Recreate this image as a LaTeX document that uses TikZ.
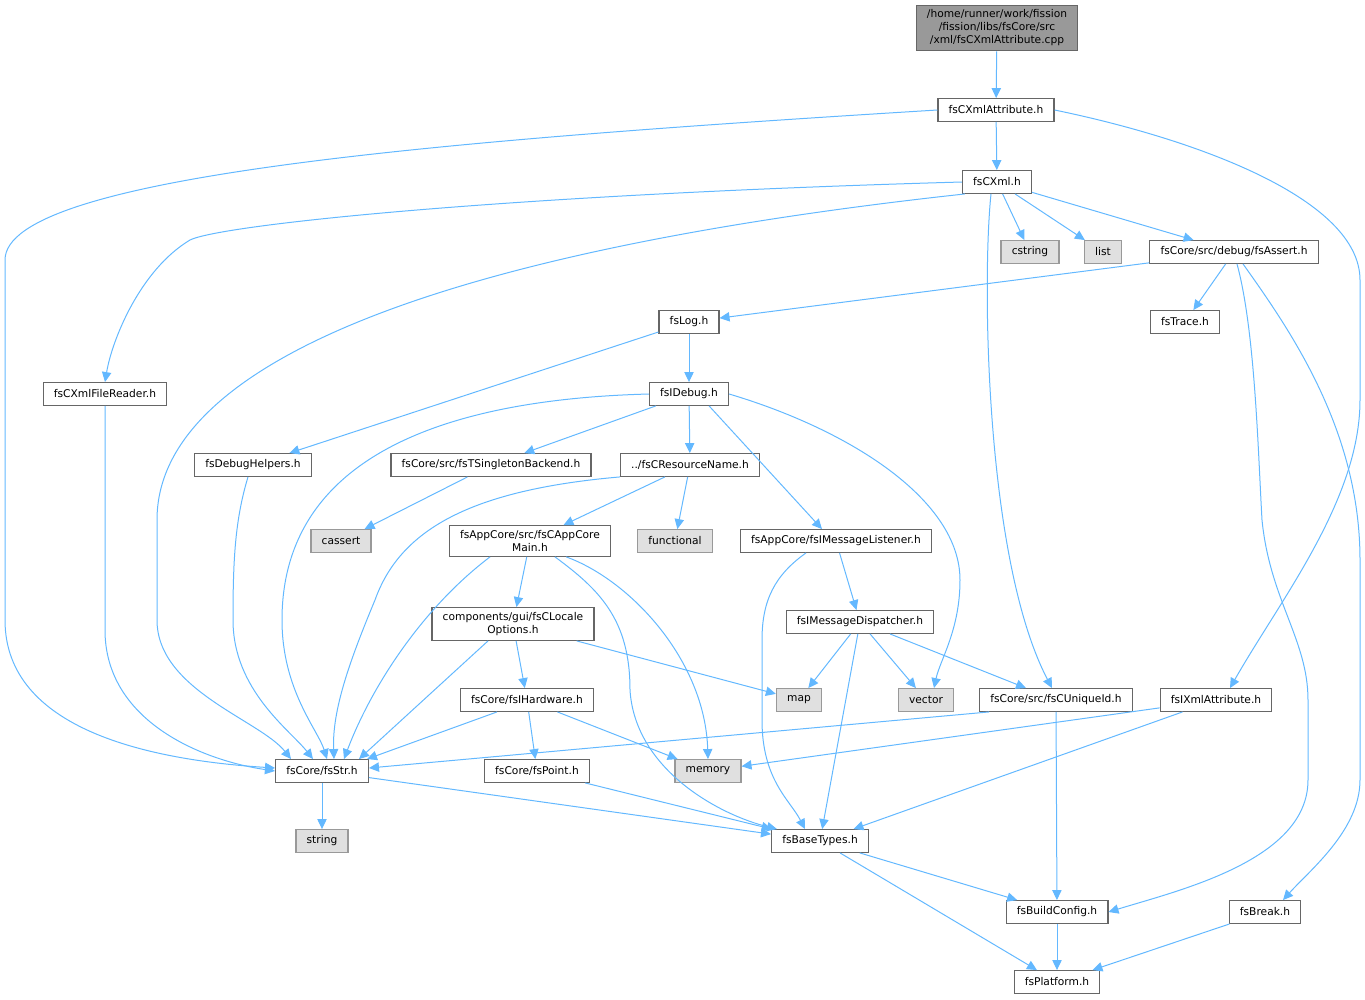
\documentclass[tikz,border=0pt]{standalone}
\usepackage{fontspec}
\setmainfont{DejaVu Sans}
\usetikzlibrary{arrows.meta,calc}
\definecolor{edgeblue}{HTML}{63B8FF}
\definecolor{boxgrey}{HTML}{666666}
\definecolor{sysgrey}{HTML}{999999}
\definecolor{sysfill}{HTML}{E0E0E0}
\tikzset{
  file/.style={rectangle, draw=boxgrey, fill=white, line width=0.9pt, inner xsep=8pt, inner ysep=3.5pt,
    minimum height=17pt, align=center, font=\fontsize{8pt}{9.75pt}\selectfont},
  sysfile/.style={file, draw=sysgrey, fill=sysfill},
  rootfile/.style={file, draw=boxgrey, fill=sysgrey},
  dep/.style={draw=edgeblue, line width=0.75pt, -{Triangle[length=7.5pt,width=7pt]}}
}
\begin{document}
\begin{tikzpicture}[x=0.75pt, y=-0.75pt]
  \useasboundingbox (0,0) rectangle (1365,1000);
  % Nodes
  \node (root) [rootfile] at (997,28) {/home/runner/work/fission\\/fission/libs/fsCore/src\\/xml/fsCXmlAttribute.cpp};
  \node (cxa) [file] at (996,110) {fsCXmlAttribute.h};
  \node (cxml) [file] at (997,182) {fsCXml.h};
  \node (cstring) [sysfile] at (1030,252) {cstring};
  \node (list) [sysfile] at (1103,252) {list};
  \node (assert) [file] at (1234,252) {fsCore/src/debug/fsAssert.h};
  \node (log) [file] at (689,322) {fsLog.h};
  \node (trace) [file] at (1185,322) {fsTrace.h};
  \node (reader) [file] at (105,394) {fsCXmlFileReader.h};
  \node (idebug) [file] at (689,394) {fsIDebug.h};
  \node (dbghelp) [file] at (253,465) {fsDebugHelpers.h};
  \node (singleton) [file] at (491,465) {fsCore/src/fsTSingletonBackend.h};
  \node (resname) [file] at (690,465) {../fsCResourceName.h};
  \node (cassert) [sysfile] at (341,541) {cassert};
  \node (appmain) [file] at (530,541) {fsAppCore/src/fsCAppCore\\Main.h};
  \node (functional) [sysfile] at (675,541) {functional};
  \node (listener) [file] at (836,541) {fsAppCore/fsIMessageListener.h};
  \node (locale) [file] at (513,624) {components/gui/fsCLocale\\Options.h};
  \node (dispatcher) [file] at (860,622) {fsIMessageDispatcher.h};
  \node (hardware) [file] at (527,700) {fsCore/fsIHardware.h};
  \node (map) [sysfile] at (799,700) {map};
  \node (vector) [sysfile] at (926,700) {vector};
  \node (uniqueid) [file] at (1056,700) {fsCore/src/fsCUniqueId.h};
  \node (ixml) [file] at (1216,700) {fsIXmlAttribute.h};
  \node (str) [file] at (322,771) {fsCore/fsStr.h};
  \node (point) [file] at (537,771) {fsCore/fsPoint.h};
  \node (memory) [sysfile] at (708,771) {memory};
  \node (string) [sysfile] at (322,841) {string};
  \node (basetypes) [file] at (820,841) {fsBaseTypes.h};
  \node (buildcfg) [file] at (1057,912) {fsBuildConfig.h};
  \node (break) [file] at (1265,912) {fsBreak.h};
  \node (platform) [file] at (1057,982) {fsPlatform.h};
  % Arrows from the top files
  \draw[dep] (root) -- (cxa);
  \draw[dep] (cxa) -- (cxml);
  \draw[dep] (cxa.west) .. controls (450,140) and (5,175) .. (5,260) -- (5,620)
    .. controls (5,730) and (150,760) .. ($(str.west)+(0,-3)$);
  \draw[dep] (cxa.east) .. controls (1200,140) and (1360,200) .. (1360,280) -- (1360,400)
    .. controls (1360,500) and (1280,600) .. ($(ixml.north)+(14,0)$);
  \draw[dep] (cxml.west) .. controls (500,195) and (220,225) .. (190,240)
    .. controls (140,270) and (112,340) .. (reader.north);
  \draw[dep] ($(cxml.south west)+(3,0)$) .. controls (450,250) and (157,360) .. (157,520) -- (157,620)
    .. controls (157,690) and (260,720) .. ($(str.north west)+(16,0)$);
  \draw[dep] ($(cxml.south)+(-6,0)$) .. controls (982,280) and (985,560) .. ($(uniqueid.north)+(-4,0)$);
  \draw[dep] (cxml) -- (cstring);
  \draw[dep] (cxml) -- (list);
  \draw[dep] (cxml) -- (assert);
  % Arrows from fsAssert.h
  \draw[dep] (assert) -- (log);
  \draw[dep] (assert) -- (trace);
  \draw[dep] ($(assert.south)+(3,0)$) .. controls (1255,330) and (1258,450) .. (1262,520)
    .. controls (1270,600) and (1308,640) .. (1308,700) -- (1308,780)
    .. controls (1308,860) and (1180,890) .. (buildcfg.east);
  \draw[dep] ($(assert.south)+(9,0)$) .. controls (1290,330) and (1360,430) .. (1360,560) -- (1360,780)
    .. controls (1360,830) and (1310,870) .. ($(break.north)+(18,0)$);
  % Arrows from fsLog.h and fsIDebug.h
  \draw[dep] (log) -- (idebug);
  \draw[dep] (log) -- (dbghelp);
  \draw[dep] (idebug.west) .. controls (420,400) and (282,470) .. (282,620)
    .. controls (282,690) and (318,730) .. ($(str.north)+(5,0)$);
  \draw[dep] (idebug) -- (singleton);
  \draw[dep] (idebug) -- (resname);
  \draw[dep] ($(idebug.south east)+(-20,0)$) -- ($(listener.north)+(-14,0)$);
  \draw[dep] (idebug.east) .. controls (850,430) and (960,500) .. (960,580)
    .. controls (960,630) and (940,660) .. ($(vector.north)+(8,0)$);
  % Arrows into fsStr.h
  \draw[dep] (reader.south) -- (105,630) .. controls (105,720) and (200,760) .. (str.west);
  \draw[dep] ($(dbghelp.south)+(-5,0)$) .. controls (235,520) and (233,560) .. (233,620)
    .. controls (233,690) and (290,730) .. ($(str.north)+(-9,0)$);
  \draw[dep] (singleton) -- (cassert);
  \draw[dep] (resname.south west) .. controls (470,490) and (400,530) .. (375,600)
    .. controls (350,660) and (332,710) .. ($(str.north)+(12,0)$);
  \draw[dep] (resname) -- (appmain);
  \draw[dep] (resname) -- (functional);
  \draw[dep] ($(appmain.south)+(-40,0)$) .. controls (420,610) and (370,690) .. ($(str.north)+(22,0)$);
  \draw[dep] (appmain) -- (locale);
  \draw[dep] ($(appmain.south east)+(-45,0)$) .. controls (630,580) and (705,660) .. (memory.north);
  \draw[dep] ($(appmain.south)+(25,0)$) .. controls (600,590) and (630,620) .. (630,690)
    .. controls (635,770) and (720,815) .. ($(basetypes.north west)+(6,0)$);
  \draw[dep] ($(locale.south)+(-25,0)$) -- ($(str.north east)+(-10,0)$);
  \draw[dep] (locale) -- (hardware);
  \draw[dep] (locale) -- (map);
  \draw[dep] ($(hardware.south)+(-30,0)$) -- ($(str.north east)+(-2,0)$);
  \draw[dep] (hardware) -- (point);
  \draw[dep] (hardware) -- (memory);
  % Arrows from the message headers
  \draw[dep] ($(listener.south)+(-30,0)$) .. controls (775,575) and (762,600) .. (762,640) -- (762,720)
    .. controls (762,780) and (790,800) .. ($(basetypes.north)+(-15,0)$);
  \draw[dep] (listener) -- (dispatcher);
  \draw[dep] (dispatcher) -- (map);
  \draw[dep] (dispatcher) -- (vector);
  \draw[dep] (dispatcher) -- (basetypes);
  \draw[dep] (dispatcher) -- (uniqueid);
  \draw[dep] ($(uniqueid.south west)+(10,0)$) -- ($(str.east)+(0,-3)$);
  \draw[dep] (uniqueid) -- (buildcfg);
  \draw[dep] (ixml) -- (memory);
  \draw[dep] (ixml) -- (basetypes);
  % Arrows at the bottom
  \draw[dep] (point) -- (basetypes);
  \draw[dep] (str) -- (string);
  \draw[dep] (str) -- (basetypes);
  \draw[dep] (basetypes) -- (buildcfg);
  \draw[dep] (basetypes) -- (platform);
  \draw[dep] (buildcfg) -- (platform);
  \draw[dep] (break) -- (platform);
\end{tikzpicture}
\end{document}
